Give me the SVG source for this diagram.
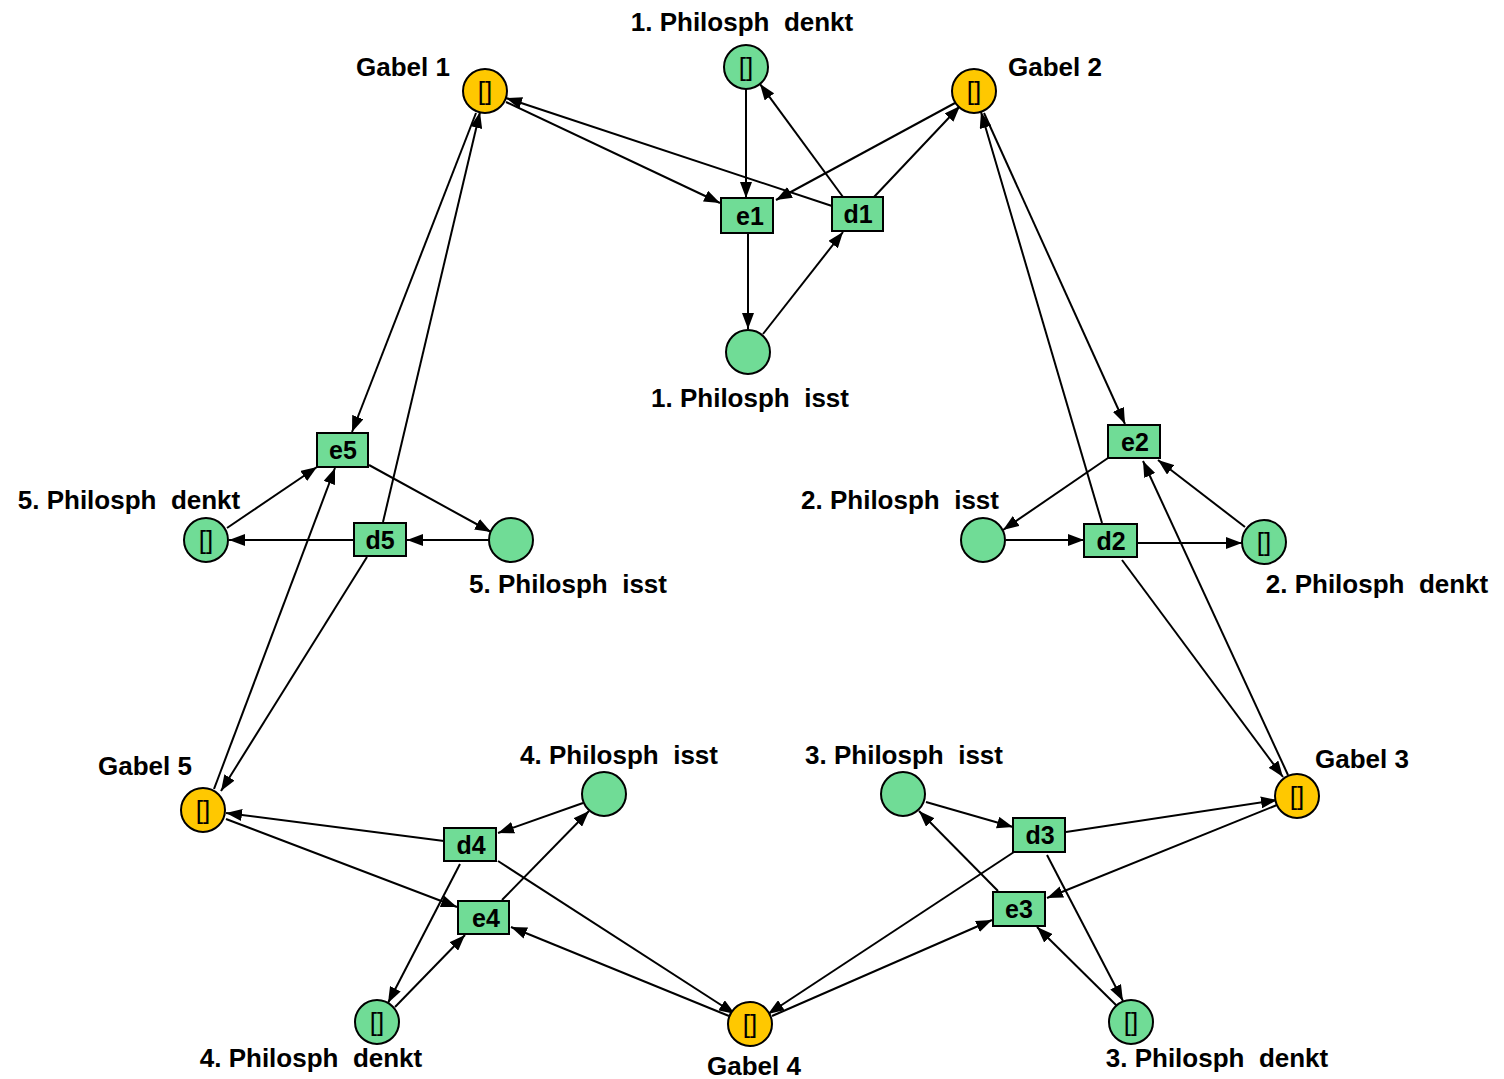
<svg xmlns="http://www.w3.org/2000/svg" width="1504" height="1079" viewBox="0 0 1504 1079">
<defs>
<marker id="ah" markerUnits="userSpaceOnUse" markerWidth="16" markerHeight="12" refX="16" refY="6" orient="auto">
<path d="M0,0 L16,6 L0,12 z" fill="#000"/>
</marker>
<style>
.pl{fill:#70DC96;stroke:#000;stroke-width:2}
.fk{fill:#FFC800;stroke:#000;stroke-width:2}
.tr{fill:#70DC96;stroke:#000;stroke-width:2}
.lb{font-family:"Liberation Sans",Arial,sans-serif;font-weight:bold;font-size:26px;fill:#000;white-space:pre;text-anchor:middle}
.tt{font-family:"Liberation Sans",Arial,sans-serif;font-weight:bold;font-size:25px;fill:#000;text-anchor:middle}
.tk{font-family:"Liberation Sans",Arial,sans-serif;font-size:26px;fill:#000;text-anchor:middle}
.e{stroke:#000;stroke-width:2;fill:none;marker-end:url(#ah)}
</style>
</defs>
<rect width="1504" height="1079" fill="#fff"/>
<g id="connectors">
<line class="e" x1="506" y1="102" x2="720" y2="203"/>
<line class="e" x1="832" y1="206" x2="506" y2="98"/>
<line class="e" x1="746" y1="89" x2="746" y2="198"/>
<line class="e" x1="843" y1="197" x2="760" y2="84"/>
<line class="e" x1="955" y1="103" x2="776" y2="200"/>
<line class="e" x1="874" y1="197" x2="960" y2="106"/>
<line class="e" x1="748" y1="233" x2="748" y2="329"/>
<line class="e" x1="763" y1="334" x2="843" y2="232"/>
<line class="e" x1="476" y1="113" x2="352" y2="432"/>
<line class="e" x1="383" y1="522" x2="480" y2="112"/>
<line class="e" x1="984" y1="113" x2="1125" y2="424"/>
<line class="e" x1="1102" y1="523" x2="981" y2="112"/>
<line class="e" x1="227" y1="528" x2="317" y2="467"/>
<line class="e" x1="369" y1="465" x2="491" y2="532"/>
<line class="e" x1="489" y1="540" x2="407" y2="540"/>
<line class="e" x1="354" y1="540" x2="229" y2="540"/>
<line class="e" x1="214" y1="789" x2="335" y2="468"/>
<line class="e" x1="367" y1="557" x2="221" y2="791"/>
<line class="e" x1="1108" y1="458" x2="1003" y2="530"/>
<line class="e" x1="1006" y1="540" x2="1084" y2="540"/>
<line class="e" x1="1137" y1="543" x2="1242" y2="543"/>
<line class="e" x1="1245" y1="527" x2="1158" y2="460"/>
<line class="e" x1="1288" y1="775" x2="1143" y2="461"/>
<line class="e" x1="1122" y1="560" x2="1283" y2="777"/>
<line class="e" x1="444" y1="841" x2="226" y2="813"/>
<line class="e" x1="226" y1="819" x2="457" y2="907"/>
<line class="e" x1="583" y1="803" x2="498" y2="833"/>
<line class="e" x1="502" y1="900" x2="589" y2="811"/>
<line class="e" x1="460" y1="864" x2="388" y2="1003"/>
<line class="e" x1="395" y1="1007" x2="465" y2="935"/>
<line class="e" x1="498" y1="861" x2="735" y2="1014"/>
<line class="e" x1="729" y1="1016" x2="511" y2="927"/>
<line class="e" x1="926" y1="802" x2="1013" y2="827"/>
<line class="e" x1="998" y1="891" x2="919" y2="811"/>
<line class="e" x1="1066" y1="832" x2="1277" y2="800"/>
<line class="e" x1="1277" y1="805" x2="1047" y2="898"/>
<line class="e" x1="1047" y1="855" x2="1123" y2="1001"/>
<line class="e" x1="1118" y1="1007" x2="1037" y2="927"/>
<line class="e" x1="1014" y1="852" x2="768" y2="1014"/>
<line class="e" x1="772" y1="1016" x2="992" y2="920"/>
</g>
<g id="gabel1"><circle class="fk" cx="485" cy="91" r="22"/><text class="tk" x="485" y="100">[]</text><text class="lb" x="403" y="76">Gabel 1</text></g>
<g id="gabel2"><circle class="fk" cx="974" cy="91" r="22"/><text class="tk" x="974" y="100">[]</text><text class="lb" x="1055" y="76">Gabel 2</text></g>
<g id="gabel3"><circle class="fk" cx="1297" cy="796" r="22"/><text class="tk" x="1297" y="805">[]</text><text class="lb" x="1362" y="768">Gabel 3</text></g>
<g id="gabel4"><circle class="fk" cx="750" cy="1024" r="22"/><text class="tk" x="750" y="1033">[]</text><text class="lb" x="754" y="1075">Gabel 4</text></g>
<g id="gabel5"><circle class="fk" cx="203" cy="810" r="22"/><text class="tk" x="203" y="819">[]</text><text class="lb" x="145" y="775">Gabel 5</text></g>
<g id="p1denkt"><circle class="pl" cx="746" cy="67" r="22"/><text class="tk" x="746" y="76">[]</text><text class="lb" x="742" y="31">1. Philosph  denkt</text></g>
<g id="p1isst"><circle class="pl" cx="748" cy="352" r="22"/><text class="lb" x="750" y="407">1. Philosph  isst</text></g>
<g id="p2denkt"><circle class="pl" cx="1264" cy="542" r="22"/><text class="tk" x="1264" y="551">[]</text><text class="lb" x="1377" y="593">2. Philosph  denkt</text></g>
<g id="p2isst"><circle class="pl" cx="983" cy="540" r="22"/><text class="lb" x="900" y="509">2. Philosph  isst</text></g>
<g id="p3denkt"><circle class="pl" cx="1131" cy="1022" r="22"/><text class="tk" x="1131" y="1031">[]</text><text class="lb" x="1217" y="1067">3. Philosph  denkt</text></g>
<g id="p3isst"><circle class="pl" cx="903" cy="794" r="22"/><text class="lb" x="904" y="764">3. Philosph  isst</text></g>
<g id="p4denkt"><circle class="pl" cx="377" cy="1022" r="22"/><text class="tk" x="377" y="1031">[]</text><text class="lb" x="311" y="1067">4. Philosph  denkt</text></g>
<g id="p4isst"><circle class="pl" cx="604" cy="794" r="22"/><text class="lb" x="619" y="764">4. Philosph  isst</text></g>
<g id="p5denkt"><circle class="pl" cx="206" cy="540" r="22"/><text class="tk" x="206" y="549">[]</text><text class="lb" x="129" y="509">5. Philosph  denkt</text></g>
<g id="p5isst"><circle class="pl" cx="511" cy="540" r="22"/><text class="lb" x="568" y="593">5. Philosph  isst</text></g>
<g id="e1"><rect class="tr" x="721" y="198" width="52" height="35"/><text class="tt" x="750" y="225">e1</text></g>
<g id="d1"><rect class="tr" x="832" y="197" width="51" height="34"/><text class="tt" x="858" y="223">d1</text></g>
<g id="e2"><rect class="tr" x="1108" y="425" width="52" height="33"/><text class="tt" x="1135" y="451">e2</text></g>
<g id="d2"><rect class="tr" x="1084" y="524" width="53" height="33"/><text class="tt" x="1111" y="550">d2</text></g>
<g id="e3"><rect class="tr" x="993" y="892" width="52" height="34"/><text class="tt" x="1019" y="918">e3</text></g>
<g id="d3"><rect class="tr" x="1013" y="818" width="52" height="34"/><text class="tt" x="1040" y="844">d3</text></g>
<g id="e4"><rect class="tr" x="458" y="901" width="51" height="33"/><text class="tt" x="486" y="927">e4</text></g>
<g id="d4"><rect class="tr" x="444" y="828" width="52" height="33"/><text class="tt" x="471" y="854">d4</text></g>
<g id="e5"><rect class="tr" x="317" y="433" width="51" height="34"/><text class="tt" x="343" y="459">e5</text></g>
<g id="d5"><rect class="tr" x="354" y="523" width="52" height="33"/><text class="tt" x="380" y="549">d5</text></g>
</svg>
